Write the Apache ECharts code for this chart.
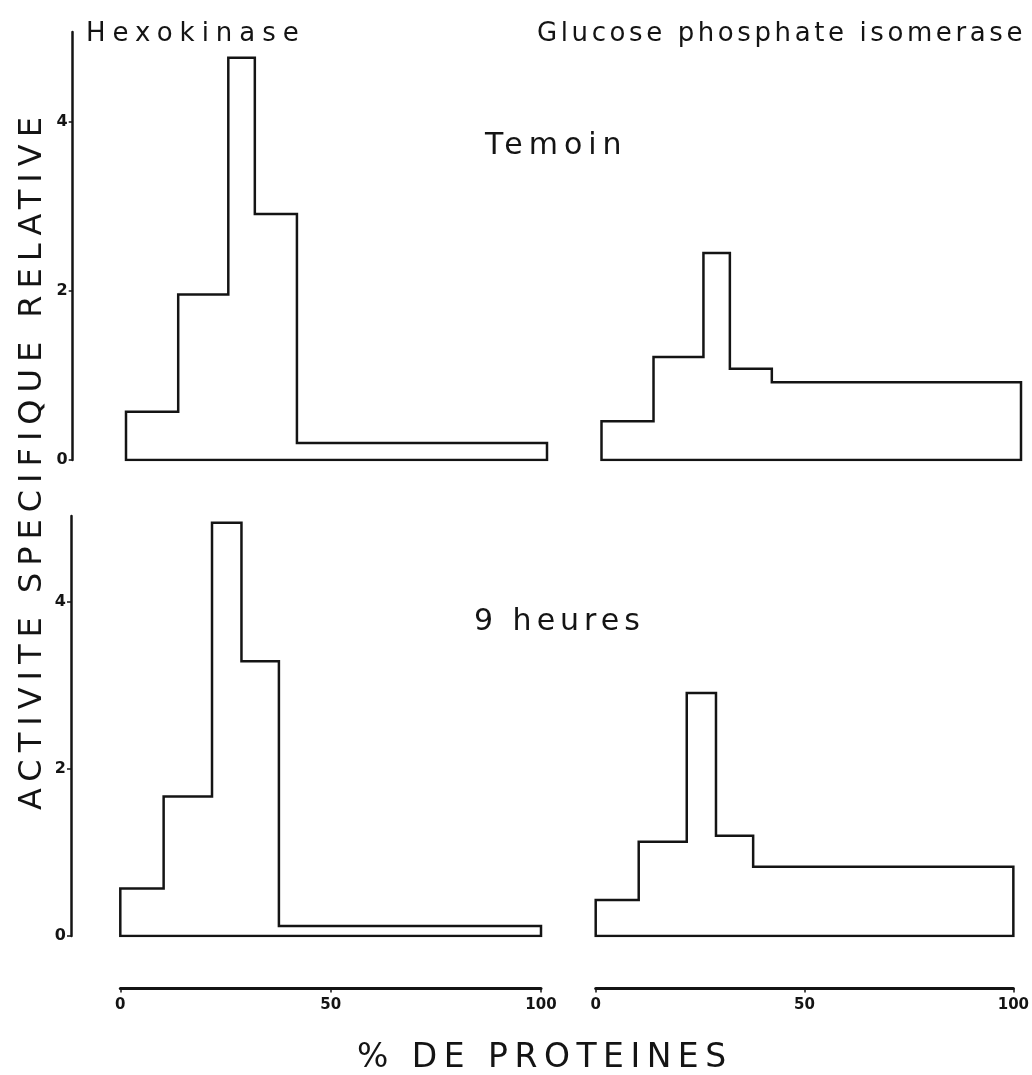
<!DOCTYPE html>
<html>
<head>
<meta charset="utf-8">
<script src="https://cdn.jsdelivr.net/npm/echarts@6/dist/echarts.min.js"></script>
<style>
html,body{margin:0;padding:0;background:#ffffff;}
#chart{width:1032px;height:1075px;}
</style>
</head>
<body>
<div id="chart"></div>
<script>
// ---- data ----
const percentTicks = [0, 50, 100];          // x tick labels (% de proteines)
const activityTicks = [0, 2, 4];            // y tick labels (activite specifique relative)
// cumulative % of protein at the fraction boundaries
const temoinBounds = [12.4, 24.3, 30.6, 40.6];
const heuresBounds = [10.3, 21.8, 28.8, 37.7];
// relative specific activity of each fraction
const hexoTemoin = [0.57, 1.96, 4.76, 2.91, 0.20];
const gpiTemoin  = [0.46, 1.22, 2.45, 1.08, 0.92];
const hexo9h     = [0.57, 1.67, 4.95, 3.29, 0.12];
const gpi9h      = [0.43, 1.13, 2.91, 1.20, 0.83];
const enzymeNames = ['Hexokinase', 'Glucose phosphate isomerase'];
const conditionNames = ['Temoin', '9 heures'];
const yAxisTitle = 'ACTIVITE SPECIFIQUE RELATIVE';
const xAxisTitle = '% DE PROTEINES';

// ---- letter spacing for the hand-lettered titles only ----
const spacing = new Map([
  [enzymeNames[0], 7], [enzymeNames[1], 3.6],
  [conditionNames[0], 6], [conditionNames[1], 5],
  [yAxisTitle, 7], [xAxisTitle, 6.5]
]);
(function(){
  const proto = CanvasRenderingContext2D.prototype;
  const orig = proto.fillText;
  proto.fillText = function(t, x, y, mw){
    const ls = spacing.get(t);
    if ('letterSpacing' in this) {
      const f = this.font;
      this.letterSpacing = (ls !== undefined ? ls : 0) + 'px';
      this.font = f;
    }
    return (mw === undefined) ? orig.call(this, t, x, y) : orig.call(this, t, x, y, mw);
  };
})();

function outline(bounds, vals){
  const edges = [0].concat(bounds, [100]);
  const pts = [[0, 0]];
  vals.forEach(function(v, i){
    pts.push([edges[i], v]);
    pts.push([edges[i + 1], v]);
  });
  pts.push([100, 0]);
  pts.push([0, 0]);
  return pts;
}

const INK = '#141414';
const FONT = 'DejaVu Sans, Noto Sans, sans-serif';

const grids = [
  {left: 126,   top: 32,  width: 421,   height: 428},
  {left: 601.5, top: 32,  width: 419.5, height: 428},
  {left: 120.3, top: 516, width: 420.7, height: 420},
  {left: 595.7, top: 516, width: 420.3, height: 420}
];
const yMax = [428 / 84.5, 428 / 84.5, 420 / 83.5, 420 / 83.5];
const yOffsets = [53.3, 0, 49.3, 0];
const panels = [
  outline(temoinBounds, hexoTemoin),
  outline(temoinBounds, gpiTemoin),
  outline(heuresBounds, hexo9h),
  outline(heuresBounds, gpi9h)
];

const xAxes = grids.map(function(g, i){
  const bottom = i >= 2;
  return {
    type: 'value', gridIndex: i, min: 0, max: 100, interval: 50,
    show: bottom, offset: bottom ? 52.5 : 0,
    axisLine: {show: true, onZero: false, lineStyle: {color: INK, width: 3}},
    axisTick: {show: true, length: 4, lineStyle: {color: INK, width: 1.5}, customValues: percentTicks},
    axisLabel: {customValues: percentTicks, color: INK, fontSize: 15, fontWeight: 'bold', fontFamily: FONT, margin: 9},
    splitLine: {show: false}
  };
});
const yAxes = grids.map(function(g, i){
  const left = (i % 2) === 0;
  return {
    type: 'value', gridIndex: i, min: 0, max: yMax[i],
    show: left, offset: yOffsets[i],
    axisLine: {show: true, onZero: false, lineStyle: {color: INK, width: 2.5}},
    axisTick: {show: true, length: 4, lineStyle: {color: INK, width: 1.5}, customValues: activityTicks},
    axisLabel: {customValues: activityTicks, color: INK, fontSize: 16, fontWeight: 'bold', fontFamily: FONT, margin: 5},
    splitLine: {show: false}
  };
});
const series = panels.map(function(pts, i){
  return {
    type: 'line', xAxisIndex: i, yAxisIndex: i, data: pts,
    showSymbol: false, symbol: 'none', silent: true,
    lineStyle: {color: INK, width: 2.5, join: 'miter', cap: 'square'}
  };
});

function txt(text, x, y, size, rot){
  return {
    type: 'text', x: x, y: y, rotation: rot || 0, silent: true,
    style: {text: text, fill: INK, font: size + 'px ' + FONT, textAlign: 'left', textVerticalAlign: 'middle'}
  };
}

const chart = echarts.init(document.getElementById('chart'), null, {renderer: 'canvas'});
chart.setOption({
  backgroundColor: '#ffffff',
  animation: false,
  grid: grids,
  xAxis: xAxes,
  yAxis: yAxes,
  series: series,
  graphic: [
    txt(enzymeNames[0], 86, 34, 26),
    txt(enzymeNames[1], 537, 34, 26),
    txt(conditionNames[0], 485, 146, 30),
    txt(conditionNames[1], 474, 622, 30),
    txt(yAxisTitle, 33, 810, 32, Math.PI / 2),
    txt(xAxisTitle, 357, 1058, 33)
  ]
});
</script>
</body>
</html>
